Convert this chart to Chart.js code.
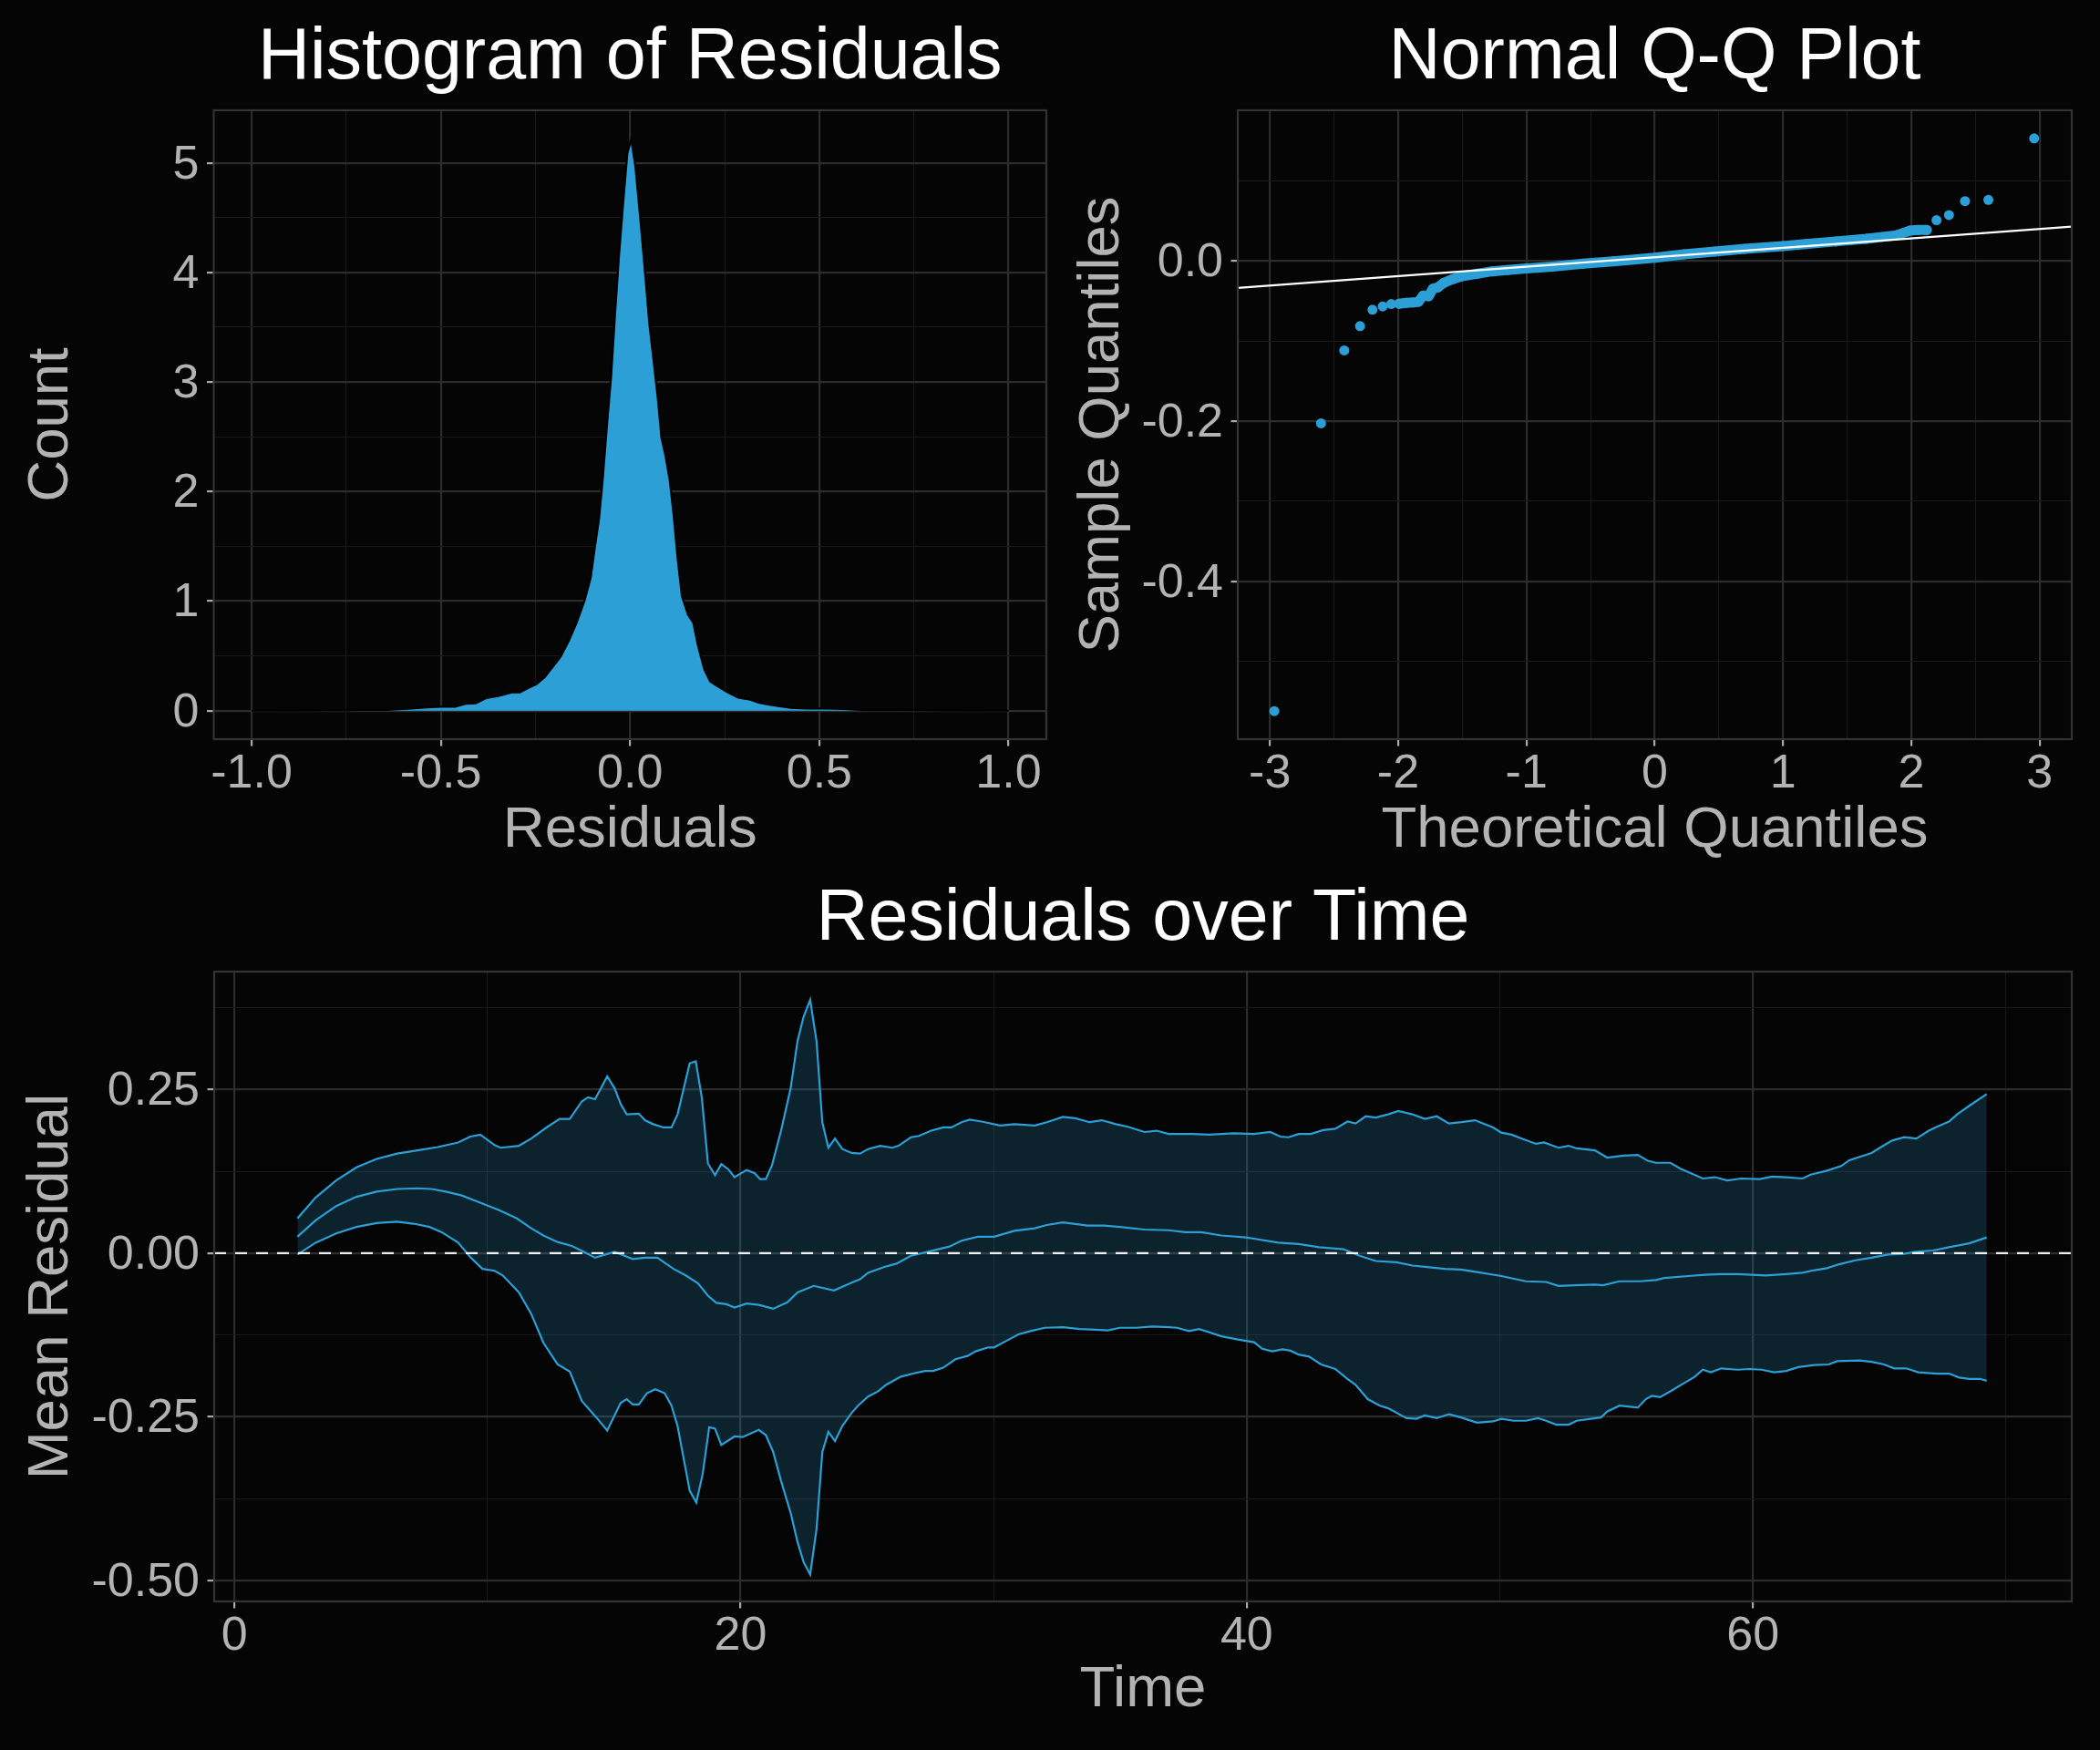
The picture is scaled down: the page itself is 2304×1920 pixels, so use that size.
<!DOCTYPE html>
<html>
<head>
<meta charset="utf-8">
<title>Residual diagnostics</title>
<script src="https://cdn.jsdelivr.net/npm/chart.js@4.4.1/dist/chart.umd.min.js"></script>
<style>
  html, body { margin: 0; padding: 0; background: #050505; }
  body { width: 2304px; height: 1920px; position: relative; overflow: hidden; }
  canvas { position: absolute; display: block; }
</style>
</head>
<body>
<canvas id="histChart" width="1160" height="950" style="left:0;top:0"></canvas>
<canvas id="qqChart" width="1144" height="950" style="left:1160px;top:0"></canvas>
<canvas id="timeChart" width="2304" height="970" style="left:0;top:950px"></canvas>
<script>
/*
    Residual diagnostics: density of residuals, normal Q-Q plot, residuals over time
*/

// ---- density of residuals ----
const densX = [-1.0, -0.9, -0.8, -0.75, -0.718, -0.643, -0.579, -0.536, -0.501, -0.462, -0.435, -0.408, -0.381,
    -0.349, -0.312, -0.291, -0.269, -0.248, -0.226, -0.205, -0.184, -0.162, -0.141, -0.12, -0.104, -0.093, -0.082,
    -0.072, -0.061, -0.05, -0.04, -0.029, -0.018, -0.007, 0.003, 0.014, 0.028, 0.041, 0.051, 0.062, 0.073, 0.083,
    0.094, 0.105, 0.115, 0.126, 0.137, 0.153, 0.167, 0.179, 0.196, 0.212, 0.233, 0.26, 0.286, 0.318, 0.34, 0.372,
    0.425, 0.468, 0.521, 0.564, 0.618, 0.714, 0.8, 0.9, 1.0];
const densY = [0.0, 0.001, 0.002, 0.003, 0.007, 0.007, 0.019, 0.03, 0.037, 0.037, 0.063, 0.067, 0.115,
    0.133, 0.167, 0.167, 0.208, 0.241, 0.304, 0.397, 0.489, 0.637, 0.804, 1.008, 1.212, 1.49, 1.749,
    2.12, 2.60, 3.05, 3.60, 4.16, 4.64, 5.09, 5.215, 4.97, 4.455, 3.94, 3.53, 3.20, 2.86, 2.49,
    2.32, 2.10, 1.79, 1.38, 1.045, 0.878, 0.804, 0.60, 0.378, 0.267, 0.219, 0.163, 0.119, 0.100, 0.074, 0.052,
    0.026, 0.019, 0.019, 0.015, 0.004, 0.007, 0.002, 0.001, 0.0];
const histXMajor = [-1, -0.5, 0, 0.5, 1];
const histXMinor = [-0.75, -0.25, 0.25, 0.75];
const histXLabels = ['-1.0', '-0.5', '0.0', '0.5', '1.0'];
const histYMajor = [0, 1, 2, 3, 4, 5];
const histYMinor = [0.5, 1.5, 2.5, 3.5, 4.5];
const histYLabels = ['0', '1', '2', '3', '4', '5'];

// ---- normal Q-Q ----
const qqTailX = [-2.965, -2.601, -2.42, -2.297, -2.20, -2.12, -2.054, 2.196, 2.293, 2.418, 2.60, 2.957];
const qqTailY = [-0.562, -0.2027, -0.1117, -0.0814, -0.061, -0.0568, -0.0538, 0.0508, 0.0572, 0.0746, 0.0761, 0.153];
// dense middle of the sample, points overlap into a band
const qqBodyX = [-1.993, -1.936, -1.88, -1.842, -1.804, -1.762, -1.729, -1.69, -1.644, -1.573, -1.502, -1.384,
    -1.267, -1.149, -1.0, -0.795, -0.559, -0.323, 0.0, 0.229, 0.466, 0.702, 1.0, 1.175, 1.411, 1.648, 1.884,
    1.99, 2.05, 2.12];
const qqBodyY = [-0.0534, -0.0523, -0.0519, -0.0511, -0.0432, -0.044, -0.0348, -0.033, -0.0273, -0.0227, -0.019, -0.016,
    -0.013, -0.0115, -0.0095, -0.007, -0.0035, -0.0005, 0.004, 0.0083, 0.0117, 0.015, 0.0186, 0.021, 0.0243, 0.0275, 0.032,
    0.0379, 0.0386, 0.0386];
const qqLineIntercept = 0.0045;
const qqLineSlope = 0.01178;
const qqXMajor = [-3, -2, -1, 0, 1, 2, 3];
const qqXMinor = [-2.5, -1.5, -0.5, 0.5, 1.5, 2.5];
const qqXLabels = ['-3', '-2', '-1', '0', '1', '2', '3'];
const qqYMajor = [-0.4, -0.2, 0];
const qqYMinor = [-0.5, -0.3, -0.1, 0.1];
const qqYLabels = ['-0.4', '-0.2', '0.0'];

// ---- residuals over time: upper band, mean, lower band ----
const tUpper = [2.49, 3.21, 4.02, 4.82, 5.62, 6.43, 7.23, 8.03, 8.84, 9.32, 9.72, 10.28, 10.52, 11.24, 11.73, 12.37,
    12.85, 13.25, 13.73, 13.98, 14.25, 14.73, 15.02, 15.26, 15.5, 15.98, 16.22, 16.55, 16.95, 17.27, 17.51, 17.99,
    18.23, 18.47, 18.71, 18.99, 19.24, 19.52, 19.76, 20.24, 20.56, 20.77, 21.0, 21.24, 21.6, 21.98, 22.25, 22.49,
    22.75, 23.0, 23.23, 23.47, 23.73, 24.02, 24.39, 24.72, 25.04, 25.52, 26.0, 26.24, 26.73, 27.05, 27.53, 28.01,
    28.33, 28.73, 29.05, 29.53, 30.26, 30.82, 31.62, 32.1, 32.74, 33.23, 33.79, 34.27, 34.83, 35.31, 35.96, 36.44,
    36.92, 37.88, 38.52, 39.49, 40.29, 40.93, 41.33, 41.65, 42.05, 42.53, 43.02, 43.5, 43.98, 44.3, 44.7, 45.1,
    45.58, 45.99, 46.55, 47.03, 47.51, 47.99, 48.48, 49.02, 49.74, 50.06, 50.47, 50.87, 51.43, 51.75, 52.32, 52.72,
    53.04, 53.76, 54.24, 54.89, 55.45, 55.85, 56.17, 56.74, 57.14, 57.62, 58.02, 58.5, 58.99, 59.55, 60.27, 60.76,
    61.32, 61.96, 62.28, 62.93, 63.49, 63.81, 64.69, 65.02, 65.5, 65.98, 66.46, 66.95, 67.27, 67.75, 68.07, 68.55,
    69.24];
const upperBand = [0.053, 0.085, 0.111, 0.131, 0.144, 0.152, 0.157, 0.162, 0.169, 0.178, 0.181, 0.165, 0.161, 0.164, 0.175, 0.193,
    0.205, 0.205, 0.232, 0.238, 0.235, 0.27, 0.252, 0.228, 0.212, 0.213, 0.203, 0.197, 0.192, 0.192, 0.212, 0.29,
    0.293, 0.237, 0.137, 0.119, 0.136, 0.128, 0.116, 0.127, 0.122, 0.113, 0.113, 0.134, 0.187, 0.252, 0.324, 0.361,
    0.387, 0.324, 0.2, 0.161, 0.175, 0.159, 0.153, 0.152, 0.159, 0.164, 0.161, 0.164, 0.177, 0.179, 0.187, 0.192,
    0.192, 0.2, 0.204, 0.201, 0.195, 0.197, 0.195, 0.2, 0.208, 0.206, 0.2, 0.203, 0.197, 0.193, 0.185, 0.187,
    0.182, 0.182, 0.181, 0.183, 0.182, 0.185, 0.178, 0.177, 0.182, 0.182, 0.188, 0.19, 0.201, 0.198, 0.209, 0.207,
    0.212, 0.217, 0.212, 0.205, 0.209, 0.198, 0.2, 0.203, 0.192, 0.184, 0.181, 0.175, 0.167, 0.169, 0.161, 0.164,
    0.16, 0.157, 0.146, 0.149, 0.15, 0.141, 0.138, 0.138, 0.129, 0.121, 0.114, 0.116, 0.111, 0.114, 0.113, 0.117,
    0.116, 0.114, 0.12, 0.126, 0.133, 0.142, 0.153, 0.161, 0.172, 0.177, 0.175, 0.187, 0.193, 0.201, 0.212, 0.225,
    0.243];
const tMean = [2.49, 3.21, 4.02, 4.82, 5.62, 6.43, 7.23, 7.79, 8.35, 8.99, 9.64, 10.44, 11.16, 11.73, 12.21, 12.77,
    13.33, 13.81, 14.25, 15.02, 15.74, 16.22, 16.71, 17.35, 17.83, 18.31, 18.71, 19.04, 19.44, 19.76, 20.24, 20.72,
    21.29, 21.85, 22.25, 22.89, 23.69, 24.39, 24.72, 25.04, 25.68, 26.16, 26.73, 27.29, 28.25, 28.73, 29.37, 30.02,
    30.82, 31.62, 32.1, 32.74, 33.71, 34.35, 34.99, 35.96, 36.92, 37.56, 38.2, 39.0, 39.97, 40.45, 41.25, 42.05,
    42.86, 43.82, 44.46, 45.1, 45.91, 46.55, 47.03, 47.83, 48.46, 49.1, 50.06, 51.03, 51.83, 52.32, 52.96, 53.76,
    54.08, 54.73, 55.53, 56.17, 56.5, 57.46, 58.1, 58.75, 59.39, 60.51, 61.32, 61.96, 62.44, 62.93, 63.41, 64.05,
    64.69, 65.34, 65.98, 66.46, 67.11, 67.75, 68.55, 69.24];
const meanResid = [0.025, 0.05, 0.072, 0.086, 0.094, 0.098, 0.099, 0.098, 0.094, 0.088, 0.078, 0.066, 0.053, 0.038, 0.027, 0.017,
    0.011, 0.002, -0.007, 0.002, -0.009, -0.007, -0.007, -0.024, -0.034, -0.046, -0.065, -0.076, -0.078, -0.083, -0.077, -0.079,
    -0.085, -0.075, -0.06, -0.05, -0.057, -0.045, -0.04, -0.03, -0.021, -0.016, -0.004, 0.001, 0.01, 0.019, 0.025, 0.025,
    0.034, 0.038, 0.043, 0.047, 0.042, 0.042, 0.04, 0.036, 0.035, 0.032, 0.032, 0.027, 0.024, 0.021, 0.016, 0.014,
    0.009, 0.006, -0.004, -0.012, -0.014, -0.019, -0.021, -0.024, -0.025, -0.029, -0.035, -0.043, -0.044, -0.05, -0.049, -0.048,
    -0.049, -0.043, -0.043, -0.041, -0.038, -0.035, -0.033, -0.032, -0.032, -0.034, -0.032, -0.03, -0.026, -0.023, -0.017, -0.011,
    -0.007, -0.002, -0.001, 0.002, 0.004, 0.009, 0.015, 0.024];
const tLower = [2.49, 3.21, 4.02, 4.82, 5.62, 6.43, 7.07, 7.71, 8.19, 8.84, 9.32, 9.8, 10.28, 10.6, 11.24, 11.73,
    12.21, 12.77, 13.25, 13.73, 14.3, 14.73, 15.26, 15.5, 15.74, 15.98, 16.3, 16.63, 17.0, 17.27, 17.51, 17.99,
    18.25, 18.5, 18.76, 18.99, 19.24, 19.76, 20.08, 20.72, 21.0, 21.29, 21.6, 21.98, 22.25, 22.49, 22.75, 23.0,
    23.23, 23.47, 23.73, 24.02, 24.39, 24.64, 25.04, 25.44, 25.76, 26.32, 26.81, 27.29, 27.61, 28.01, 28.49, 28.97,
    29.29, 29.78, 30.02, 30.5, 30.98, 31.46, 32.02, 32.74, 33.39, 34.03, 34.51, 34.99, 35.63, 36.28, 36.92, 37.24,
    37.72, 38.12, 38.52, 39.0, 39.65, 40.29, 40.61, 41.01, 41.41, 41.73, 42.05, 42.46, 42.94, 43.5, 43.98, 44.3,
    44.78, 45.26, 45.59, 46.31, 46.71, 47.03, 47.51, 48.0, 48.46, 49.1, 49.74, 50.06, 50.55, 51.03, 51.51, 51.83,
    52.23, 52.72, 53.04, 54.0, 54.24, 54.73, 55.45, 55.77, 56.01, 56.33, 56.74, 57.3, 57.7, 58.02, 58.34, 58.75,
    59.39, 59.87, 60.35, 60.84, 61.32, 61.8, 62.44, 63.0, 63.33, 64.21, 64.69, 65.18, 65.58, 66.06, 66.54, 67.27,
    67.75, 68.15, 68.55, 68.96, 69.24];
const lowerBand = [-0.002, 0.016, 0.03, 0.04, 0.046, 0.048, 0.045, 0.04, 0.032, 0.016, -0.006, -0.024, -0.027, -0.034, -0.06, -0.093,
    -0.137, -0.17, -0.181, -0.226, -0.251, -0.271, -0.229, -0.223, -0.231, -0.231, -0.214, -0.208, -0.214, -0.233, -0.264, -0.363,
    -0.381, -0.338, -0.266, -0.268, -0.293, -0.28, -0.281, -0.27, -0.278, -0.304, -0.348, -0.397, -0.441, -0.472, -0.491, -0.422,
    -0.304, -0.273, -0.287, -0.264, -0.244, -0.233, -0.219, -0.211, -0.201, -0.189, -0.184, -0.18, -0.18, -0.175, -0.162, -0.157,
    -0.15, -0.144, -0.144, -0.134, -0.124, -0.119, -0.114, -0.113, -0.116, -0.117, -0.118, -0.114, -0.114, -0.112, -0.113, -0.114,
    -0.119, -0.116, -0.121, -0.127, -0.132, -0.136, -0.146, -0.15, -0.147, -0.149, -0.155, -0.158, -0.17, -0.177, -0.192, -0.201,
    -0.223, -0.233, -0.237, -0.252, -0.253, -0.248, -0.252, -0.246, -0.251, -0.259, -0.257, -0.253, -0.256, -0.256, -0.252, -0.256,
    -0.262, -0.262, -0.256, -0.251, -0.242, -0.233, -0.236, -0.223, -0.218, -0.22, -0.211, -0.198, -0.189, -0.178, -0.182, -0.176,
    -0.178, -0.177, -0.178, -0.182, -0.18, -0.174, -0.171, -0.17, -0.165, -0.164, -0.166, -0.17, -0.176, -0.176, -0.182, -0.184,
    -0.184, -0.19, -0.192, -0.192, -0.195];
const timeXMajor = [0, 20, 40, 60];
const timeXMinor = [10, 30, 50, 70];
const timeXLabels = ['0', '20', '40', '60'];
const timeYMajor = [-0.5, -0.25, 0, 0.25];
const timeYMinor = [-0.375, -0.125, 0.125, 0.375];
const timeYLabels = ['-0.50', '-0.25', '0.00', '0.25'];

// ---- look ----
const BLUE = '#2b9fd6';
const RIBBON = 'rgba(43, 159, 214, 0.19)';
const GRID_MAJOR = '#2c2c2c';
const GRID_MINOR = '#191919';
const BORDER = '#333333';
const TEXT_GREY = '#b3b3b3';
const TICK_MARK = '#aaaaaa';

Chart.defaults.font.family = "'Liberation Sans', Arial, sans-serif";
Chart.defaults.animation = false;

function pts(xs, ys) {
    return xs.map((x, i) => ({ x: x, y: ys[i] }));
}

// ggplot-like axis: major + minor grid lines, labels only on majors, fixed box size
function axis(position, min, max, major, minor, labels, title, size, tickPad, titlePad) {
    const near = (a, b) => Math.abs(a - b) < 1e-9;
    const isMajor = v => major.some(m => near(m, v));
    const all = major.concat(minor).sort((a, b) => a - b);
    const horiz = position === 'bottom';
    return {
        type: 'linear',
        position: position,
        min: min,
        max: max,
        afterBuildTicks: ax => { ax.ticks = all.map(v => ({ value: v })); },
        afterFit: ax => {
            if (horiz) ax.height = size; else ax.width = size;
            ax.paddingLeft = 0; ax.paddingRight = 0; ax.paddingTop = 0; ax.paddingBottom = 0;
        },
        border: { display: false },
        grid: {
            color: c => isMajor(c.tick.value) ? GRID_MAJOR : GRID_MINOR,
            lineWidth: c => isMajor(c.tick.value) ? 2.2 : 1.1,
            tickColor: c => isMajor(c.tick.value) ? TICK_MARK : 'rgba(0,0,0,0)',
            tickWidth: 2.2,
            tickLength: 7.5
        },
        ticks: {
            autoSkip: false,
            maxRotation: 0,
            minRotation: 0,
            color: TEXT_GREY,
            padding: tickPad,
            labelOffset: horiz ? 0 : 2.5,   // canvas 'middle' sits a little above cap centre
            font: { size: 52, lineHeight: 1 },
            callback: v => {
                const i = major.findIndex(m => near(m, v));
                return i < 0 ? '' : labels[i];
            }
        },
        title: {
            display: true,
            text: title,
            color: TEXT_GREY,
            font: { size: 63.5 },
            padding: horiz ? { top: 0, bottom: titlePad } : { top: titlePad, bottom: 0 }
        }
    };
}

function titleOpts(text, padTop, padBottom) {
    return {
        display: true,
        text: text,
        color: '#ffffff',
        fullSize: false,
        font: { size: 79, weight: 'normal' },
        padding: { top: padTop, bottom: padBottom }
    };
}

// frame round the plotting panel
const panelBorder = {
    id: 'panelBorder',
    afterDraw(chart) {
        const { ctx, chartArea: a } = chart;
        ctx.save();
        ctx.strokeStyle = BORDER;
        ctx.lineWidth = 2.2;
        ctx.strokeRect(a.left, a.top, a.right - a.left, a.bottom - a.top);
        ctx.restore();
    }
};

// dashed reference line at zero residual
const zeroLine = {
    id: 'zeroLine',
    afterDatasetsDraw(chart) {
        const { ctx, chartArea: a } = chart;
        const y = chart.scales.y.getPixelForValue(0);
        ctx.save();
        ctx.strokeStyle = 'rgba(255,255,255,0.92)';
        ctx.lineWidth = 2.2;
        ctx.setLineDash([13, 10]);
        ctx.beginPath();
        ctx.moveTo(a.left, y);
        ctx.lineTo(a.right, y);
        ctx.stroke();
        ctx.restore();
    }
};

const basePlugins = {
    legend: { display: false },
    tooltip: { enabled: false }
};

// ---- chart 1: histogram (density) ----
new Chart(document.getElementById('histChart'), {
    type: 'line',
    data: {
        datasets: [{
            data: pts(densX, densY),
            fill: 'origin',
            backgroundColor: BLUE,
            borderColor: '#000000',
            borderWidth: 2.2,
            pointRadius: 0,
            tension: 0
        }]
    },
    options: {
        responsive: false,
        layout: { padding: { left: 0, right: 12, top: 0, bottom: 0 } },
        scales: {
            x: axis('bottom', -1.1, 1.1, histXMajor, histXMinor, histXLabels, 'Residuals', 139, 5.5, 0),
            y: axis('left', -0.26, 5.48, histYMajor, histYMinor, histYLabels, 'Count', 234.5, 8.5, 18.5)
        },
        plugins: Object.assign({ title: titleOpts('Histogram of Residuals', 16.6, 9.6) }, basePlugins)
    },
    plugins: [panelBorder]
});

// ---- chart 2: normal Q-Q ----
const qqMin = -3.25, qqMax = 3.25;
new Chart(document.getElementById('qqChart'), {
    type: 'scatter',
    data: {
        datasets: [
            {
                // fitted reference line, drawn on top
                data: [
                    { x: qqMin, y: qqLineIntercept + qqLineSlope * qqMin },
                    { x: qqMax, y: qqLineIntercept + qqLineSlope * qqMax }
                ],
                showLine: true,
                borderColor: '#ffffff',
                borderWidth: 2.2,
                pointRadius: 0
            },
            {
                data: pts(qqBodyX, qqBodyY),
                showLine: true,
                borderColor: BLUE,
                borderWidth: 11,
                borderCapStyle: 'round',
                borderJoinStyle: 'round',
                pointRadius: 5.5,
                pointBorderWidth: 0,
                pointBackgroundColor: BLUE
            },
            {
                data: pts(qqTailX, qqTailY),
                showLine: false,
                pointRadius: 5.5,
                pointBorderWidth: 0,
                pointBackgroundColor: BLUE
            }
        ]
    },
    options: {
        responsive: false,
        layout: { padding: { left: 0, right: 31, top: 0, bottom: 0 } },
        scales: {
            x: axis('bottom', qqMin, qqMax, qqXMajor, qqXMinor, qqXLabels, 'Theoretical Quantiles', 139, 5.5, 0),
            y: axis('left', -0.597, 0.188, qqYMajor, qqYMinor, qqYLabels, 'Sample Quantiles', 198, 8.5, 10.9)
        },
        plugins: Object.assign({ title: titleOpts('Normal Q-Q Plot', 16.6, 9.6) }, basePlugins)
    },
    plugins: [panelBorder]
});

// ---- chart 3: residuals over time ----
new Chart(document.getElementById('timeChart'), {
    type: 'line',
    data: {
        datasets: [
            {
                data: pts(tUpper, upperBand),
                fill: '+2',
                backgroundColor: RIBBON,
                borderColor: BLUE,
                borderWidth: 2.2,
                pointRadius: 0,
                tension: 0
            },
            {
                data: pts(tMean, meanResid),
                fill: false,
                borderColor: BLUE,
                borderWidth: 2.2,
                pointRadius: 0,
                tension: 0
            },
            {
                data: pts(tLower, lowerBand),
                fill: false,
                borderColor: BLUE,
                borderWidth: 2.2,
                pointRadius: 0,
                tension: 0
            }
        ]
    },
    options: {
        responsive: false,
        layout: { padding: { left: 0, right: 31, top: 0, bottom: 0 } },
        scales: {
            x: axis('bottom', -0.8, 72.6, timeXMajor, timeXMinor, timeXLabels, 'Time', 163, 5.5, 27.4),
            y: axis('left', -0.532, 0.43, timeYMajor, timeYMinor, timeYLabels, 'Mean Residual', 235, 8.5, 18.5)
        },
        plugins: Object.assign({
            title: titleOpts('Residuals over Time', 11.6, 9.6),
            filler: { drawTime: 'beforeDatasetsDraw' }
        }, basePlugins)
    },
    plugins: [panelBorder, zeroLine]
});
</script>
</body>
</html>
